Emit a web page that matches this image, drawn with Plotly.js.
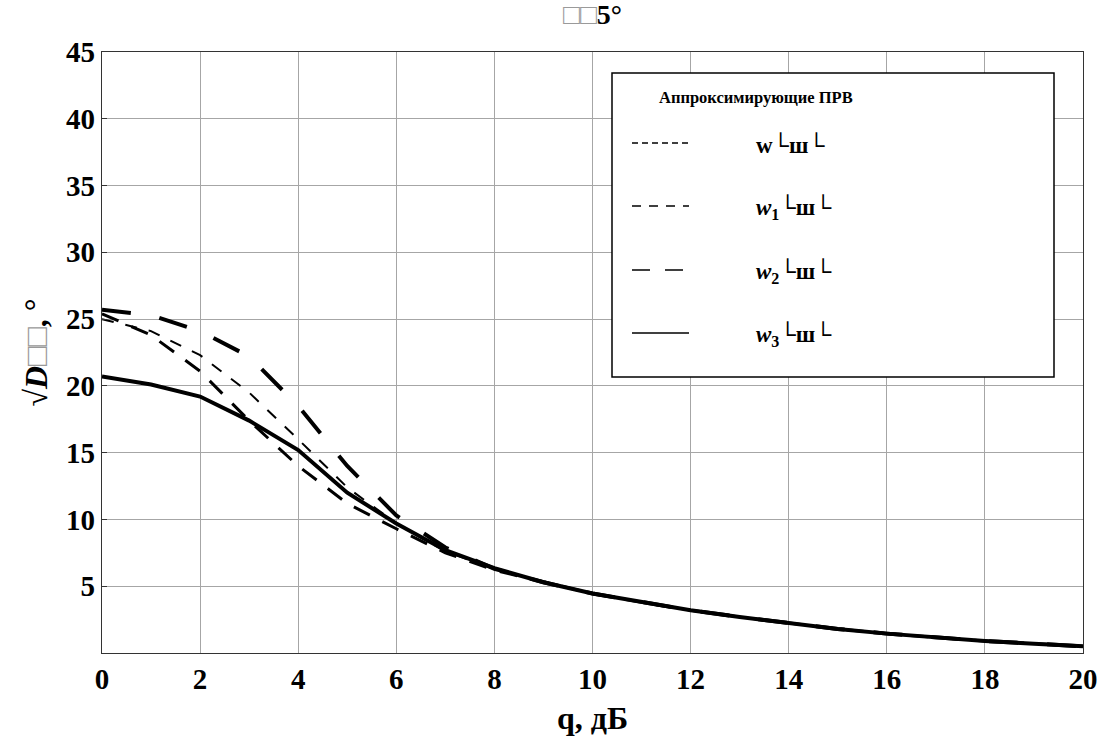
<!DOCTYPE html>
<html>
<head>
<meta charset="utf-8">
<script src="https://cdn.plot.ly/plotly-3.0.1.min.js"></script>
<style>html,body{margin:0;padding:0;background:#fff;}#chart{width:1107px;height:746px;}</style>
</head>
<body>
<div id="chart"></div>
<script>
// q, dB
const q = [0,1,2,3,4,5,6,7,8,9,10,11,12,13,14,15,16,17,18,19,20];
// approximating PDFs
const wVals  = [25.0,24.1,22.3,19.5,16.0,12.4,9.7,7.6,6.3,5.3,4.45,3.8,3.2,2.7,2.25,1.8,1.45,1.15,0.9,0.7,0.5];
const w1Vals = [25.4,23.8,21.1,17.4,14.0,11.2,9.3,7.5,6.2,5.3,4.45,3.8,3.2,2.7,2.25,1.8,1.45,1.15,0.9,0.7,0.5];
const w2Vals = [25.7,25.3,24.1,22.2,18.5,14.0,10.3,7.9,6.3,5.3,4.45,3.8,3.2,2.7,2.25,1.8,1.45,1.15,0.9,0.7,0.5];
const w3Vals = [20.7,20.1,19.2,17.4,15.2,12.0,9.7,7.7,6.35,5.3,4.45,3.8,3.2,2.7,2.25,1.8,1.45,1.15,0.9,0.7,0.5];
const xTicks = [0,2,4,6,8,10,12,14,16,18,20];
const yTicks = [5,10,15,20,25,30,35,40,45];
const legendTitle = 'Аппроксимирующие ПРВ';
const legendLabels = ['w└ш└', '<i>w</i><sub>1</sub>└ш└', '<i>w</i><sub>2</sub>└ш└', '<i>w</i><sub>3</sub>└ш└'];
const chartTitle = '<span style="color:#9a9a9a">□□</span>5°';
const xTitle = 'q, дБ';
const yTitle = '√<i>D</i><span style="color:#9a9a9a">□□</span>, °';

const FONT = 'Liberation Serif';
const series = [
  {y: wVals,  dash: '12px,12px', width: 2},
  {y: w1Vals, dash: '18px,14px', width: 3},
  {y: w2Vals, dash: '29px,29px', width: 4},
  {y: w3Vals, dash: 'solid',     width: 4}
];
const traces = series.map(s => ({
  x: q, y: s.y, type: 'scatter', mode: 'lines',
  line: {color: '#000', width: s.width, dash: s.dash},
  showlegend: false, hoverinfo: 'skip'
}));

// custom legend box (paper coords)
const px2x = p => (p - 102) / 981;
const py2y = p => (653 - p) / 601;
const shapes = [{
  type: 'rect', xref: 'paper', yref: 'paper',
  x0: px2x(612), x1: px2x(1054), y0: py2y(377), y1: py2y(73),
  line: {color: '#000', width: 1.5}, fillcolor: '#fff', layer: 'above'
}];
const legDash = ['6px,4px', '9px,8px', '18px,15px', 'solid'];
const legRows = [143, 206, 270, 333];
const annotations = [{
  xref: 'paper', yref: 'paper', x: px2x(756), y: py2y(97),
  text: legendTitle, showarrow: false,
  font: {family: FONT, size: 16.5, color: '#000', weight: 'bold'}, xanchor: 'center', yanchor: 'middle'
}, {
  xref: 'paper', yref: 'paper', x: px2x(592), y: py2y(14),
  text: chartTitle, showarrow: false,
  font: {family: FONT, size: 28, color: '#000', weight: 'bold'}, xanchor: 'center', yanchor: 'middle'
}];
legRows.forEach((r, i) => {
  shapes.push({
    type: 'line', xref: 'paper', yref: 'paper',
    x0: px2x(632), x1: px2x(689), y0: py2y(r), y1: py2y(r),
    line: {color: '#000', width: 1.6, dash: legDash[i]}, layer: 'above'
  });
  annotations.push({
    xref: 'paper', yref: 'paper', x: px2x(754), y: py2y(r + 2),
    text: legendLabels[i], showarrow: false,
    font: {family: FONT, size: 23, color: '#000', weight: 'bold'}, xanchor: 'left', yanchor: 'middle'
  });
});

const layout = {
  width: 1107, height: 746,
  margin: {l: 102, r: 24, t: 52, b: 93},
  paper_bgcolor: '#fff', plot_bgcolor: '#fff',
  xaxis: {
    range: [0, 20], tickvals: xTicks, ticktext: xTicks.map(String),
    showgrid: true, gridcolor: '#a6a6a6', gridwidth: 1,
    showline: true, linecolor: '#333', linewidth: 1.2, mirror: true,
    ticks: '', zeroline: false,
    tickfont: {family: FONT, size: 29, color: '#000', weight: 'bold'},
    title: {text: xTitle, font: {family: FONT, size: 32, color: '#000', weight: 'bold'}, standoff: 12}
  },
  yaxis: {
    range: [0, 45], tickvals: yTicks, ticktext: yTicks.map(String),
    showgrid: true, gridcolor: '#a6a6a6', gridwidth: 1,
    showline: true, linecolor: '#333', linewidth: 1.2, mirror: true,
    ticks: 'inside', ticklen: 5, tickcolor: '#333', zeroline: false,
    tickfont: {family: FONT, size: 29, color: '#000', weight: 'bold'},
    title: {text: yTitle, font: {family: FONT, size: 32, color: '#000', weight: 'bold'}, standoff: 8}
  },
  shapes: shapes,
  annotations: annotations
};

Plotly.newPlot('chart', traces, layout, {displayModeBar: false, staticPlot: true});
</script>
</body>
</html>
